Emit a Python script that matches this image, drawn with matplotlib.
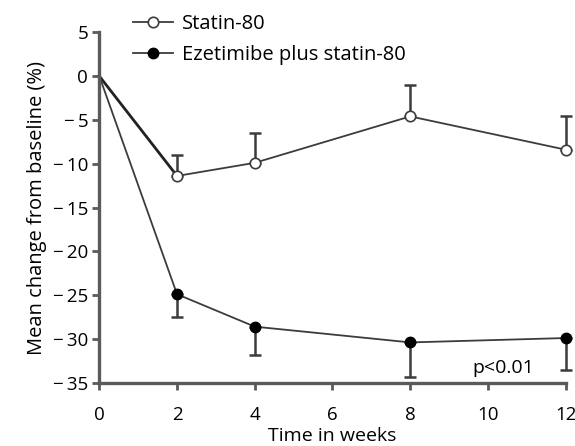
import matplotlib
matplotlib.use("Agg")
import matplotlib.pyplot as plt
from matplotlib.ticker import FuncFormatter

plt.rcParams["font.family"] = ["Open Sans", "DejaVu Sans"]

weeks = [0, 2, 4, 8, 12]
statin = [0, -11.4, -9.9, -4.6, -8.4]
statin_err = [0, 2.4, 3.4, 3.6, 3.8]
combo = [0, -24.9, -28.6, -30.4, -29.9]
combo_err = [0, 2.6, 3.2, 4.0, 3.7]
xticks = [0, 2, 4, 6, 8, 10, 12]
yticks = [5, 0, -5, -10, -15, -20, -25, -30, -35]

line_col = "#3c3c3c"
axis_col = "#5a5a5a"


def minus_fmt(v, pos):
    v = int(round(v))
    return f"\u2212\u2009{abs(v)}" if v < 0 else f"{v}"


fig = plt.figure(figsize=(5.75, 4.46), dpi=100)
ax = fig.add_axes([0.1727, 0.1419, 0.8111, 0.7857])

# one-sided error bars: statin upward, combination downward
ax.errorbar(weeks[1:], statin[1:], yerr=[[0] * 4, statin_err[1:]], fmt="none",
            ecolor=line_col, elinewidth=1.8, capsize=4.5, capthick=1.8, clip_on=False, zorder=2)
ax.errorbar(weeks[1:], combo[1:], yerr=[combo_err[1:], [0] * 4], fmt="none",
            ecolor=line_col, elinewidth=1.8, capsize=4.5, capthick=1.8, clip_on=False, zorder=2)

# segment from baseline (no marker at week 0)
ax.plot(weeks[:2], statin[:2], color="#222222", lw=2.0, clip_on=False, zorder=2.5)
ax.plot(weeks[:2], combo[:2], color=line_col, lw=1.3, clip_on=False, zorder=2.5)

ax.plot(weeks[1:], statin[1:], color=line_col, lw=1.3, marker="o", ms=7.5, mfc="white",
        mec=line_col, mew=1.2, label="Statin-80", clip_on=False, zorder=3)
ax.plot(weeks[1:], combo[1:], color=line_col, lw=1.3, marker="o", ms=7.5, mfc="black",
        mec="black", label="Ezetimibe plus statin-80", clip_on=False, zorder=3)

ax.set_xlim(0, 12)
ax.set_ylim(-35, 5)
ax.set_xticks(xticks)
ax.set_yticks(yticks)
ax.yaxis.set_major_formatter(FuncFormatter(minus_fmt))
ax.tick_params(labelsize=13.5, color=axis_col, width=2, length=5, pad=3)
ax.tick_params(axis="x", pad=12)

for s in ["top", "right"]:
    ax.spines[s].set_visible(False)
for s in ["left", "bottom"]:
    ax.spines[s].set_color(axis_col)
    ax.spines[s].set_linewidth(2.4)

ax.set_xlabel("Time in weeks", fontsize=14, labelpad=2)
ax.set_ylabel("Mean change from baseline (%)", fontsize=14.5, labelpad=4)

ax.text(9.6, -33.3, "p<0.01", fontsize=14, va="center", ha="left")

ax.legend(loc="upper left", bbox_to_anchor=(0.231, 0.968), bbox_transform=fig.transFigure,
          frameon=False, fontsize=14.5, handlelength=2.0, handletextpad=0.45,
          labelspacing=0.55, borderpad=0, borderaxespad=0)

fig.savefig("out.png", dpi=100)
